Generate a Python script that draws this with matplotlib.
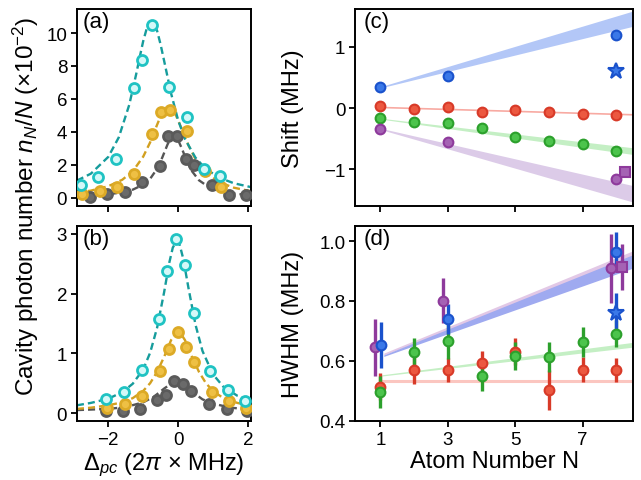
import numpy as np
import matplotlib
matplotlib.use('Agg')
import matplotlib.pyplot as plt

plt.rcParams['font.family'] = ['Liberation Sans', 'DejaVu Sans']
plt.rcParams['mathtext.fontset'] = 'custom'
plt.rcParams['mathtext.rm'] = 'Liberation Sans'
plt.rcParams['mathtext.it'] = 'Liberation Sans:italic'
plt.rcParams['axes.linewidth'] = 1.4

# ============================================================
# (a) 광자수 스펙트럼 (데이터 + 피팅 곡선)
# ============================================================
a_teal_x = [-2.77, -2.29, -1.77, -1.27, -1.02, -0.74, -0.26, 0.25, 0.74, 1.21]
a_teal_y = [0.81, 1.29, 2.38, 6.65, 8.36, 10.5, 6.75, 4.93, 1.74, 1.33]
a_gold_x = [-2.74, -2.24, -1.74, -1.25, -0.74, -0.50, -0.24, 0.26, 0.76, 1.24]
a_gold_y = [0.22, 0.40, 0.69, 1.48, 3.90, 5.19, 5.33, 4.08, 1.64, 0.69]
a_gray_x = [-2.53, -2.04, -1.53, -1.03, -0.52, -0.28, -0.02, 0.23, 0.47, 0.97, 1.47, 1.96]
a_gray_y = [0.08, 0.22, 0.34, 0.95, 1.96, 3.74, 3.74, 2.36, 2.00, 0.81, 0.20, 0.20]

a_fit_teal_x = [-2.9, -2.5, -2.0, -1.7, -1.4, -1.2, -1.1, -1.0, -0.9, -0.8, -0.7, -0.6,
                -0.5, -0.4, -0.2, 0.0, 0.2, 0.5, 0.8, 1.2, 1.6, 2.1]
a_fit_teal_y = [1.05, 1.47, 2.49, 3.67, 5.64, 7.51, 8.53, 9.50, 10.26, 10.66, 10.64, 10.13,
                9.30, 8.32, 6.34, 4.73, 3.57, 2.44, 1.75, 1.21, 0.89, 0.65]
a_fit_gold_x = [-2.9, -2.5, -2.0, -1.6, -1.3, -1.0, -0.8, -0.6, -0.5, -0.4, -0.27, -0.2,
                -0.1, 0.1, 0.3, 0.5, 0.8, 1.2, 1.6, 2.1]
a_fit_gold_y = [0.33, 0.44, 0.71, 1.10, 1.61, 2.50, 3.37, 4.44, 4.95, 5.35, 5.55, 5.49,
                5.20, 4.22, 3.18, 2.35, 1.53, 0.94, 0.62, 0.40]
a_fit_gray_x = [-2.9, -2.5, -2.0, -1.6, -1.3, -1.0, -0.8, -0.6, -0.45, -0.38, -0.3, -0.2,
                -0.12, 0.0, 0.12, 0.2, 0.3, 0.4, 0.6, 0.9, 1.3, 1.7, 2.1]
a_fit_gray_y = [0.12, 0.15, 0.22, 0.34, 0.50, 0.80, 1.16, 1.77, 2.46, 2.83, 3.25, 3.65,
                3.77, 3.52, 2.94, 2.51, 2.02, 1.62, 1.07, 0.63, 0.36, 0.24, 0.17]

# ============================================================
# (b)
# ============================================================
b_teal_x = [-2.07, -1.55, -1.04, -0.54, -0.31, -0.05, 0.21, 0.45, 0.93, 1.43, 1.92]
b_teal_y = [0.24, 0.36, 0.72, 1.58, 2.37, 2.91, 2.47, 1.68, 0.71, 0.38, 0.21]
b_gold_x = [-2.05, -1.53, -1.02, -0.51, -0.26, -0.01, 0.24, 0.45, 0.96, 1.47, 1.95]
b_gold_y = [0.08, 0.16, 0.29, 0.70, 1.07, 1.36, 1.10, 0.85, 0.36, 0.20, 0.09]
b_gray_x = [-2.06, -1.58, -1.09, -0.61, -0.35, -0.13, 0.14, 0.38, 0.90, 1.39, 1.98]
b_gray_y = [0.03, 0.03, 0.07, 0.22, 0.31, 0.54, 0.49, 0.37, 0.15, 0.07, 0.04]

b_fit_teal_x = [-2.9, -2.5, -2.0, -1.6, -1.3, -1.0, -0.8, -0.6, -0.4, -0.25, -0.15, -0.04,
                0.05, 0.15, 0.3, 0.5, 0.7, 1.0, 1.3, 1.7, 2.1]
b_fit_teal_y = [0.13, 0.17, 0.24, 0.35, 0.49, 0.73, 1.01, 1.43, 2.02, 2.52, 2.77, 2.88,
                2.81, 2.58, 2.09, 1.48, 1.04, 0.65, 0.44, 0.29, 0.21]
b_fit_gold_x = [-2.9, -2.5, -2.0, -1.6, -1.3, -1.0, -0.8, -0.6, -0.4, -0.2, -0.1, 0.0,
                0.1, 0.2, 0.4, 0.6, 0.8, 1.0, 1.3, 1.7, 2.1]
b_fit_gold_y = [0.07, 0.09, 0.13, 0.18, 0.25, 0.37, 0.50, 0.69, 0.94, 1.22, 1.31, 1.35,
                1.31, 1.22, 0.94, 0.69, 0.50, 0.37, 0.25, 0.17, 0.12]
b_fit_gray_x = [-2.9, -2.0, -1.5, -1.0, -0.7, -0.4, -0.2, -0.05, 0.15, 0.4, 0.7, 1.0, 1.5, 2.1]
b_fit_gray_y = [0.05, 0.07, 0.10, 0.18, 0.27, 0.41, 0.49, 0.52, 0.48, 0.36, 0.23, 0.16, 0.09, 0.06]

# ============================================================
# (c) Shift, (d) HWHM vs 원자 수
# ============================================================
N = [1, 2, 3, 4, 5, 6, 7, 8]
N_sparse = [1, 3, 8]

shift_red = [0.04, -0.02, 0.02, -0.07, -0.03, -0.07, -0.09, -0.12]
shift_green = [-0.16, -0.22, -0.24, -0.32, -0.48, -0.54, -0.58, -0.71]
shift_blue = [0.35, 0.52, 1.20]
shift_blue_star = 0.61
shift_purple = [-0.34, -0.56, -1.16]
shift_purple_err = [0.03, 0.02, 0.07]
shift_purple_sq_N = 8.24
shift_purple_sq = -1.04

hwhm_red = [0.514, 0.568, 0.570, 0.592, 0.631, 0.502, 0.571, 0.569]
hwhm_red_err = [0.046, 0.045, 0.040, 0.042, 0.045, 0.066, 0.042, 0.040]
hwhm_green = [0.496, 0.629, 0.666, 0.550, 0.617, 0.612, 0.663, 0.690]
hwhm_green_err = [0.052, 0.047, 0.060, 0.050, 0.046, 0.050, 0.050, 0.045]
hwhm_blue_N = [1.02, 3.0, 8.0]
hwhm_blue = [0.654, 0.741, 0.964]
hwhm_blue_err = [0.077, 0.050, 0.065]
hwhm_blue_star = 0.759
hwhm_blue_star_err = 0.068
hwhm_purple_N = [0.85, 2.85, 7.85]
hwhm_purple = [0.646, 0.800, 0.909]
hwhm_purple_err = [0.095, 0.075, 0.115]
hwhm_purple_sq_N = 8.16
hwhm_purple_sq = 0.914
hwhm_purple_sq_err = 0.077

# 이론 밴드 (양 끝점)
band_N = [1, 8.5]
c_blue_lo, c_blue_hi = [0.33, 1.34], [0.35, 1.59]
c_red_line = [0.01, -0.11]
c_green_lo, c_green_hi = [-0.18, -0.76], [-0.165, -0.65]
c_purple_lo, c_purple_hi = [-0.35, -1.54], [-0.33, -1.27]

d_blue_N = [1.1, 8.5]
d_blue_lo, d_blue_hi = [0.615, 0.910], [0.620, 0.955]
d_purple_lo, d_purple_hi = [0.620, 0.935], [0.626, 0.968]
d_red_line = [0.532, 0.532]
d_green_lo, d_green_hi = [0.549, 0.646], [0.553, 0.662]

# 색상
TEAL_LINE, TEAL_EDGE, TEAL_FACE = '#169c9c', '#1fc3c3', '#d4f8f8'
GOLD_LINE, GOLD_EDGE, GOLD_FACE = '#d2a020', '#dcaa26', '#eec044'
GRAY_LINE, GRAY_EDGE, GRAY_FACE = '#555555', '#5a5a5a', '#6a6a6a'
RED, RED_F = '#d83a28', '#ec5840'
GREEN, GREEN_F = '#2ca02c', '#4cc44c'
BLUE, BLUE_F = '#1a52cc', '#3a78e8'
PURPLE, PURPLE_F = '#8e3a9c', '#a562b4'

LABEL_FS = 17
TICK_FS = 13.5

fig = plt.figure(figsize=(6.41, 4.81), dpi=100)
ax_a = fig.add_axes([0.120, 0.570, 0.272, 0.409])
ax_b = fig.add_axes([0.120, 0.123, 0.272, 0.405])
ax_c = fig.add_axes([0.554, 0.570, 0.434, 0.409])
ax_d = fig.add_axes([0.554, 0.123, 0.434, 0.405])

dash = (0, (3.0, 1.7))


def spectrum(ax, fits, pts):
    for (fx, fy, col) in fits:
        ax.plot(fx, fy, linestyle=dash, color=col, lw=1.7, zorder=2)
    for (px, py, ec, fc) in pts:
        ax.plot(px, py, 'o', ms=7.2, mec=ec, mfc=fc, mew=2.0, zorder=3, ls='none')


spectrum(ax_a,
         [(a_fit_gray_x, a_fit_gray_y, GRAY_LINE),
          (a_fit_gold_x, a_fit_gold_y, GOLD_LINE),
          (a_fit_teal_x, a_fit_teal_y, TEAL_LINE)],
         [(a_gray_x, a_gray_y, GRAY_EDGE, GRAY_FACE),
          (a_gold_x, a_gold_y, GOLD_EDGE, GOLD_FACE),
          (a_teal_x, a_teal_y, TEAL_EDGE, TEAL_FACE)])
spectrum(ax_b,
         [(b_fit_gray_x, b_fit_gray_y, GRAY_LINE),
          (b_fit_gold_x, b_fit_gold_y, GOLD_LINE),
          (b_fit_teal_x, b_fit_teal_y, TEAL_LINE)],
         [(b_gray_x, b_gray_y, GRAY_EDGE, GRAY_FACE),
          (b_gold_x, b_gold_y, GOLD_EDGE, GOLD_FACE),
          (b_teal_x, b_teal_y, TEAL_EDGE, TEAL_FACE)])

for ax in (ax_a, ax_b):
    ax.set_xlim(-2.9, 2.1)
    ax.set_xticks([-2, 0, 2])
ax_a.set_ylim(-0.48, 11.45)
ax_a.set_yticks([0, 2, 4, 6, 8, 10])
ax_a.set_xticklabels([])
ax_b.set_ylim(-0.13, 3.13)
ax_b.set_yticks([0, 1, 2, 3])
ax_b.set_xlabel(r'$\Delta_{pc}$ (2$\pi$ $\times$ MHz)', fontsize=LABEL_FS, labelpad=2)
fig.text(0.040, 0.571, r'Cavity photon number $n_N/N$ ($\times$10$^{-2}$)',
         rotation=90, ha='center', va='center', fontsize=17.5)

# ---- (c) ----
ax_c.fill_between(band_N, c_blue_lo, c_blue_hi, color='#b3c7f7', lw=0, zorder=1)
ax_c.fill_between(band_N, c_purple_lo, c_purple_hi, color='#dccbe8', lw=0, zorder=1)
ax_c.fill_between(band_N, c_green_lo, c_green_hi, color='#c4efc4', lw=0, zorder=1)
ax_c.plot(band_N, c_red_line, color='#f8aaa2', lw=1.2, zorder=1)

mk = dict(ms=7, mew=1.5, ls='none', zorder=3)
ax_c.plot(N, shift_red, 'o', mec=RED, mfc=RED_F, **mk)
ax_c.plot(N, shift_green, 'o', mec=GREEN, mfc=GREEN_F, **mk)
ax_c.errorbar(N_sparse, shift_purple, yerr=shift_purple_err, fmt='o', color=PURPLE,
              mec=PURPLE, mfc=PURPLE_F, ms=7, mew=1.5, elinewidth=2.2, capsize=0, zorder=3)
ax_c.plot([shift_purple_sq_N], [shift_purple_sq], 's', mec=PURPLE, mfc=PURPLE_F, **mk)
ax_c.plot(N_sparse, shift_blue, 'o', mec=BLUE, mfc=BLUE_F, **mk)
ax_c.plot([8], [shift_blue_star], '*', mec=BLUE, mfc=BLUE_F, ms=12, mew=1.5, ls='none', zorder=3)

ax_c.set_xlim(0.25, 8.5)
ax_c.set_ylim(-1.6, 1.62)
ax_c.set_xticks([1, 3, 5, 7])
ax_c.set_xticklabels([])
ax_c.set_yticks([-1, 0, 1])
ax_c.set_ylabel('Shift (MHz)', fontsize=LABEL_FS)
ax_c.yaxis.set_label_coords(-0.185, 0.5)

# ---- (d) ----
ax_d.fill_between(d_blue_N, d_purple_lo, d_purple_hi, color='#e2c8e6', lw=0, zorder=1)
ax_d.fill_between(d_blue_N, d_blue_lo, d_blue_hi, color='#9faaf0', lw=0, zorder=1)
ax_d.fill_between(band_N, d_green_lo, d_green_hi, color='#c4efc4', lw=0, zorder=1)
ax_d.plot(band_N, d_red_line, color='#fbc6c0', lw=2.2, zorder=1)

eb = dict(fmt='o', ms=7, mew=1.5, elinewidth=2.4, capsize=0, zorder=3)
ax_d.errorbar(N, hwhm_red, yerr=hwhm_red_err, color=RED, mec=RED, mfc=RED_F, **eb)
ax_d.errorbar(N, hwhm_green, yerr=hwhm_green_err, color=GREEN, mec=GREEN, mfc=GREEN_F, **eb)
ax_d.errorbar(hwhm_purple_N, hwhm_purple, yerr=hwhm_purple_err, color=PURPLE,
              mec=PURPLE, mfc=PURPLE_F, **eb)
ax_d.errorbar([hwhm_purple_sq_N], [hwhm_purple_sq], yerr=[hwhm_purple_sq_err], color=PURPLE,
              mec=PURPLE, mfc=PURPLE_F, fmt='s', ms=7, mew=1.5, elinewidth=2.4, capsize=0,
              zorder=3)
ax_d.errorbar([8], [hwhm_blue_star], yerr=[hwhm_blue_star_err], color=BLUE, mec=BLUE,
              mfc=BLUE_F, fmt='*', ms=12, mew=1.5, elinewidth=2.4, capsize=0, zorder=3)
ax_d.errorbar(hwhm_blue_N, hwhm_blue, yerr=hwhm_blue_err, color=BLUE, mec=BLUE, mfc=BLUE_F, **eb)

ax_d.set_xlim(0.25, 8.5)
ax_d.set_ylim(0.4, 1.05)
ax_d.set_xticks([1, 3, 5, 7])
ax_d.set_yticks([0.4, 0.6, 0.8, 1.0])
ax_d.set_yticklabels(['0.4', '0.6', '0.8', '1.0'])
ax_d.set_xlabel('Atom Number N', fontsize=LABEL_FS, labelpad=2)
ax_d.set_ylabel('HWHM (MHz)', fontsize=LABEL_FS)
ax_d.yaxis.set_label_coords(-0.185, 0.5)

for ax, lab in zip((ax_a, ax_b, ax_c, ax_d), ('(a)', '(b)', '(c)', '(d)')):
    ax.tick_params(direction='out', length=4, width=1.3, labelsize=TICK_FS, pad=3)
    ax.text(0.03, 0.99, lab, transform=ax.transAxes, ha='left', va='top', fontsize=16)

fig.savefig('out.png', dpi=100)
